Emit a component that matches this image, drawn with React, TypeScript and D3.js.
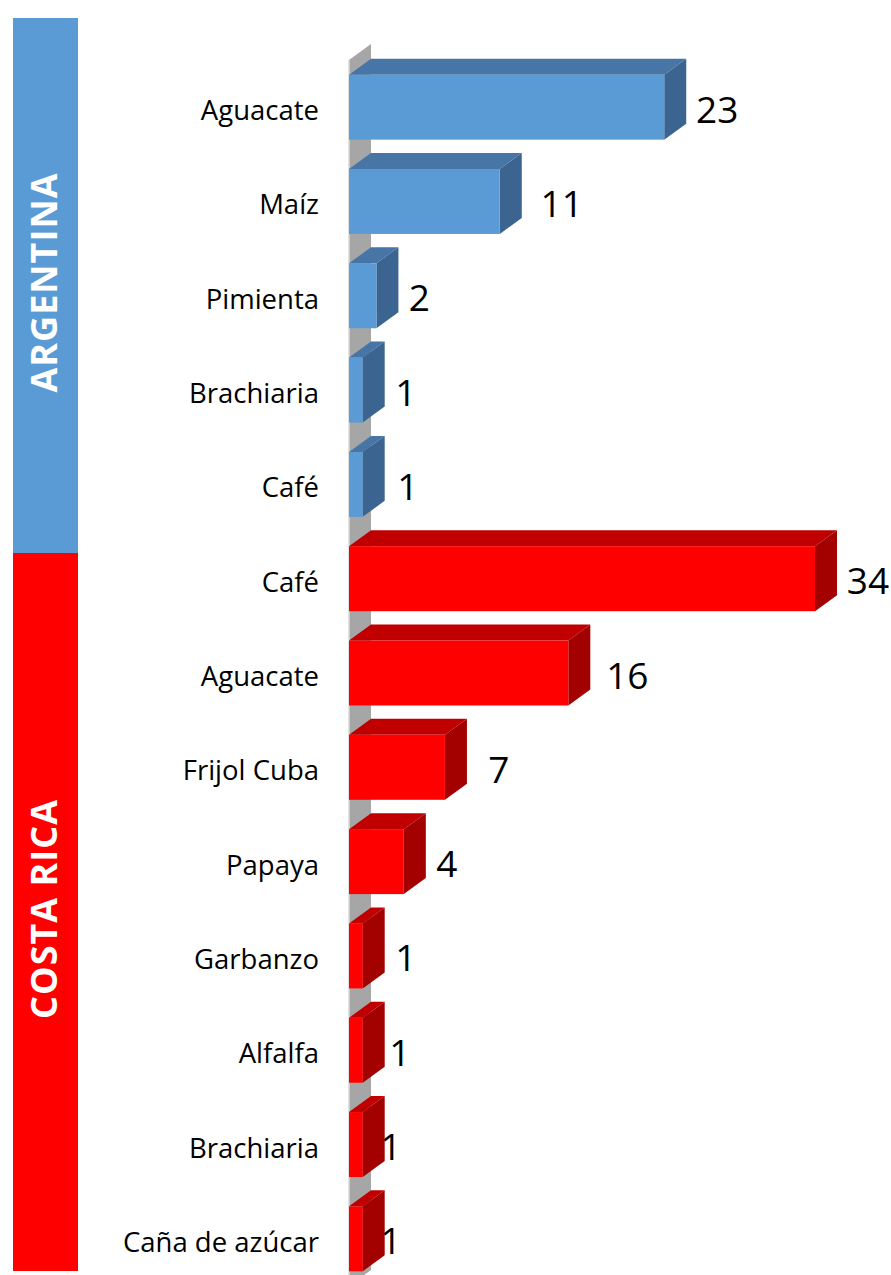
import React from "react";
import * as d3 from "d3";

const groups = ["ARGENTINA", "COSTA RICA"];
const argCrops = ["Aguacate", "Maíz", "Pimienta", "Brachiaria", "Café"];
const argValues = [23, 11, 2, 1, 1];
const crCrops = ["Café", "Aguacate", "Frijol Cuba", "Papaya", "Garbanzo", "Alfalfa", "Brachiaria", "Caña de azúcar"];
const crValues = [34, 16, 7, 4, 1, 1, 1, 1];
// manual label placement (px from bar end to label center), as in the source
const argLabelShift = [53, 62, 43, 43, 45];
const crLabelShift = [53, 59, 54, 43, 43, 37, 28, 28];

const W = 891, H = 1275;
const DX = 22, DY = -16;

const palette = {
  ARGENTINA: { front: "#5b9bd5", top: "#4675a6", side: "#3b6590", band: "#5b9bd5" },
  "COSTA RICA": { front: "#ff0000", top: "#c00000", side: "#a30000", band: "#ff0000" },
};

export default function App() {
  const rows = [
    ...argCrops.map((c, i) => ({ key: "a" + i, crop: c, value: argValues[i], group: groups[0], shift: argLabelShift[i] })),
    ...crCrops.map((c, i) => ({ key: "c" + i, crop: c, value: crValues[i], group: groups[1], shift: crLabelShift[i] })),
  ];
  const y = d3.scaleBand<string>().domain(rows.map((r) => r.key)).range([60, 1286]).paddingInner(0.311).paddingOuter(0.1555);
  const x = d3.scaleLinear().domain([0, 34]).range([349, 815]);
  const x0 = x(0);
  const bw = y.bandwidth();
  const yTop = 60, yBot = 1286;

  const bands = [
    { g: groups[0], y0: 18, y1: 553 },
    { g: groups[1], y0: 553, y1: 1271 },
  ];

  return (
    <svg width={W} height={H} style={{ position: "absolute", left: 0, top: 0, background: "#fff" }} fontFamily="'Open Sans', sans-serif">
      {bands.map((b) => (
        <g key={b.g}>
          <rect x={13} y={b.y0} width={65} height={b.y1 - b.y0} fill={palette[b.g].band} />
          <text
            transform={`translate(${43},${(b.y0 + b.y1) / 2 - 3}) rotate(-90)`}
            textAnchor="middle"
            dominantBaseline="central"
            fill="#fff"
            fontWeight={700}
            fontSize={36}
            letterSpacing={1}
          >
            {b.g}
          </text>
        </g>
      ))}
      {/* side wall */}
      <polygon
        points={`${x0},${yTop} ${x0 + DX},${yTop + DY} ${x0 + DX},${yBot + DY} ${x0},${yBot}`}
        fill="#a6a6a6"
      />
      <line x1={x0} y1={yTop} x2={x0} y2={yBot} stroke="#d9d9d9" strokeWidth={1.5} />
      {rows.map((r) => {
        const c = palette[r.group];
        const t = y(r.key)!;
        const b = t + bw;
        const xe = x(r.value);
        const cy = t + bw / 2;
        return (
          <g key={r.key}>
            <polygon points={`${x0},${t} ${xe},${t} ${xe + DX},${t + DY} ${x0 + DX},${t + DY}`} fill={c.top} />
            <polygon points={`${xe},${t} ${xe + DX},${t + DY} ${xe + DX},${b + DY} ${xe},${b}`} fill={c.side} />
            <rect x={x0} y={t} width={xe - x0} height={bw} fill={c.front} />
            <text x={319} y={cy + 13} textAnchor="end" fontSize={27.5} fill="#000">
              {r.crop}
            </text>
            <text x={xe + r.shift} y={cy + 15.5} textAnchor="middle" fontSize={37} fill="#000">
              {r.value}
            </text>
          </g>
        );
      })}
    </svg>
  );
}
